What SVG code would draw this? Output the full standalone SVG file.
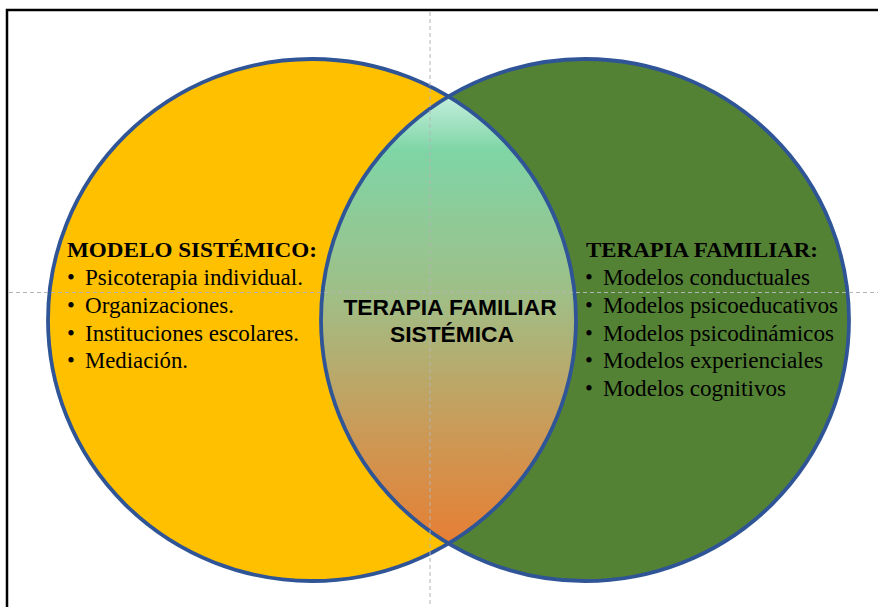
<svg xmlns="http://www.w3.org/2000/svg" width="878" height="607" viewBox="0 0 878 607">
  <style>
    .ring { fill: none; stroke: #2F5597; stroke-width: 3.8; }
    .guide { stroke: #b4b4b4; stroke-width: 1; stroke-dasharray: 4 3; fill: none; }
    .head { font-family: "Liberation Serif", "Times New Roman", serif; font-weight: bold; font-size: 22px; fill: #000; }
    .item { font-family: "Liberation Serif", "Times New Roman", serif; font-size: 22.5px; fill: #000; }
    .center { font-family: "Liberation Sans", Arial, sans-serif; font-weight: bold; font-size: 22.8px; fill: #000; text-anchor: middle; }
  </style>
  <defs>
    <linearGradient id="lensGrad" gradientUnits="userSpaceOnUse" x1="0" y1="97" x2="0" y2="543">
      <stop offset="0" stop-color="#c2eedb"/>
      <stop offset="0.12" stop-color="#7fd5a6"/>
      <stop offset="0.45" stop-color="#a0be86"/>
      <stop offset="0.75" stop-color="#cb9a57"/>
      <stop offset="1" stop-color="#e67f34"/>
    </linearGradient>
    <clipPath id="rightClip">
      <ellipse cx="585" cy="320" rx="264" ry="261"/>
    </clipPath>
  </defs>

  <rect x="0" y="0" width="878" height="607" fill="#ffffff"/>
  <path d="M7 607 V10 H878" fill="none" stroke="#000" stroke-width="2.5"/>

  <g id="modelo-sistemico">
    <ellipse cx="312" cy="320" rx="264" ry="261" fill="#FFC000"/>
  </g>
  <g id="terapia-familiar">
    <ellipse cx="585" cy="320" rx="264" ry="261" fill="#548235"/>
  </g>
  <g id="terapia-familiar-sistemica">
    <ellipse cx="312" cy="320" rx="264" ry="261" fill="url(#lensGrad)" clip-path="url(#rightClip)"/>
  </g>
  <g id="outlines">
    <ellipse class="ring" cx="312" cy="320" rx="264" ry="261"/>
    <ellipse class="ring" cx="585" cy="320" rx="264" ry="261"/>
  </g>

  <g id="guides">
    <line class="guide" x1="430" y1="12" x2="430" y2="607"/>
    <line class="guide" x1="9" y1="292.5" x2="878" y2="292.5"/>
  </g>

  <g id="left-text">
    <text class="head" x="67" y="257" textLength="250" lengthAdjust="spacingAndGlyphs">MODELO SISTÉMICO:</text>
    <text class="item" x="67" y="285">•</text>
    <text class="item" x="85" y="285" textLength="218" lengthAdjust="spacingAndGlyphs">Psicoterapia individual.</text>
    <text class="item" x="67" y="313">•</text>
    <text class="item" x="85" y="313" textLength="149" lengthAdjust="spacingAndGlyphs">Organizaciones.</text>
    <text class="item" x="67" y="341">•</text>
    <text class="item" x="85" y="341" textLength="214" lengthAdjust="spacingAndGlyphs">Instituciones escolares.</text>
    <text class="item" x="67" y="368">•</text>
    <text class="item" x="85" y="368" textLength="103" lengthAdjust="spacingAndGlyphs">Mediación.</text>
  </g>

  <g id="center-text">
    <text class="center" x="450" y="315">TERAPIA FAMILIAR</text>
    <text class="center" x="452" y="342">SISTÉMICA</text>
  </g>

  <g id="right-text">
    <text class="head" x="586" y="257" textLength="232" lengthAdjust="spacingAndGlyphs">TERAPIA FAMILIAR:</text>
    <text class="item" x="585" y="285">•</text>
    <text class="item" x="603" y="285" textLength="207" lengthAdjust="spacingAndGlyphs">Modelos conductuales</text>
    <text class="item" x="585" y="313">•</text>
    <text class="item" x="603" y="313" textLength="235" lengthAdjust="spacingAndGlyphs">Modelos psicoeducativos</text>
    <text class="item" x="585" y="341">•</text>
    <text class="item" x="603" y="341" textLength="231" lengthAdjust="spacingAndGlyphs">Modelos psicodinámicos</text>
    <text class="item" x="585" y="368">•</text>
    <text class="item" x="603" y="368" textLength="220" lengthAdjust="spacingAndGlyphs">Modelos experienciales</text>
    <text class="item" x="585" y="396">•</text>
    <text class="item" x="603" y="396" textLength="183" lengthAdjust="spacingAndGlyphs">Modelos cognitivos</text>
  </g>
</svg>
